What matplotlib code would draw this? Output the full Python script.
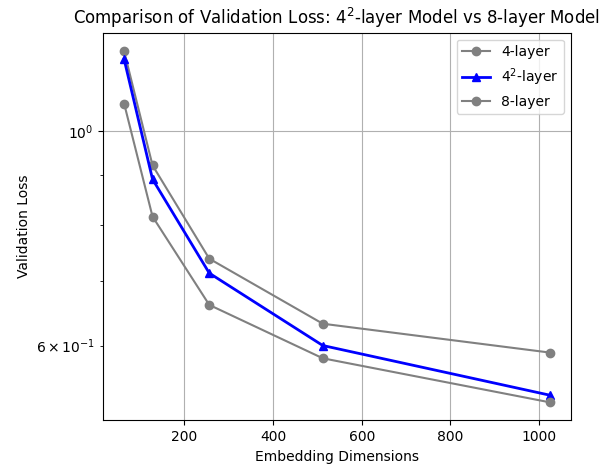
import matplotlib
matplotlib.use('Agg')
import matplotlib.pyplot as plt

## embedding sizes and validation losses
dims = [64, 128, 256, 512, 1024]
loss_4 = [1.21, 0.922, 0.738, 0.632, 0.590]
loss_42 = [1.187, 0.892, 0.713, 0.600, 0.533]
loss_8 = [1.068, 0.816, 0.661, 0.582, 0.524]

fig, ax = plt.subplots(figsize=(6.16, 4.67), dpi=100)
fig.subplots_adjust(left=0.167, right=0.927, top=0.93, bottom=0.1)

ax.plot(dims, loss_4, marker='o', color='gray', label='4-layer')
ax.plot(dims, loss_42, marker='^', color='blue', linewidth=2, label='$4^2$-layer')
ax.plot(dims, loss_8, marker='o', color='gray', label='8-layer')

ax.set_yscale('log')
ax.set_ylim(0.502, 1.265)
ax.set_title('Comparison of Validation Loss: $4^2$-layer Model vs 8-layer Model')
ax.set_xlabel('Embedding Dimensions')
ax.set_ylabel('Validation Loss')
ax.grid(True)
ax.legend()

fig.savefig('out.png')
